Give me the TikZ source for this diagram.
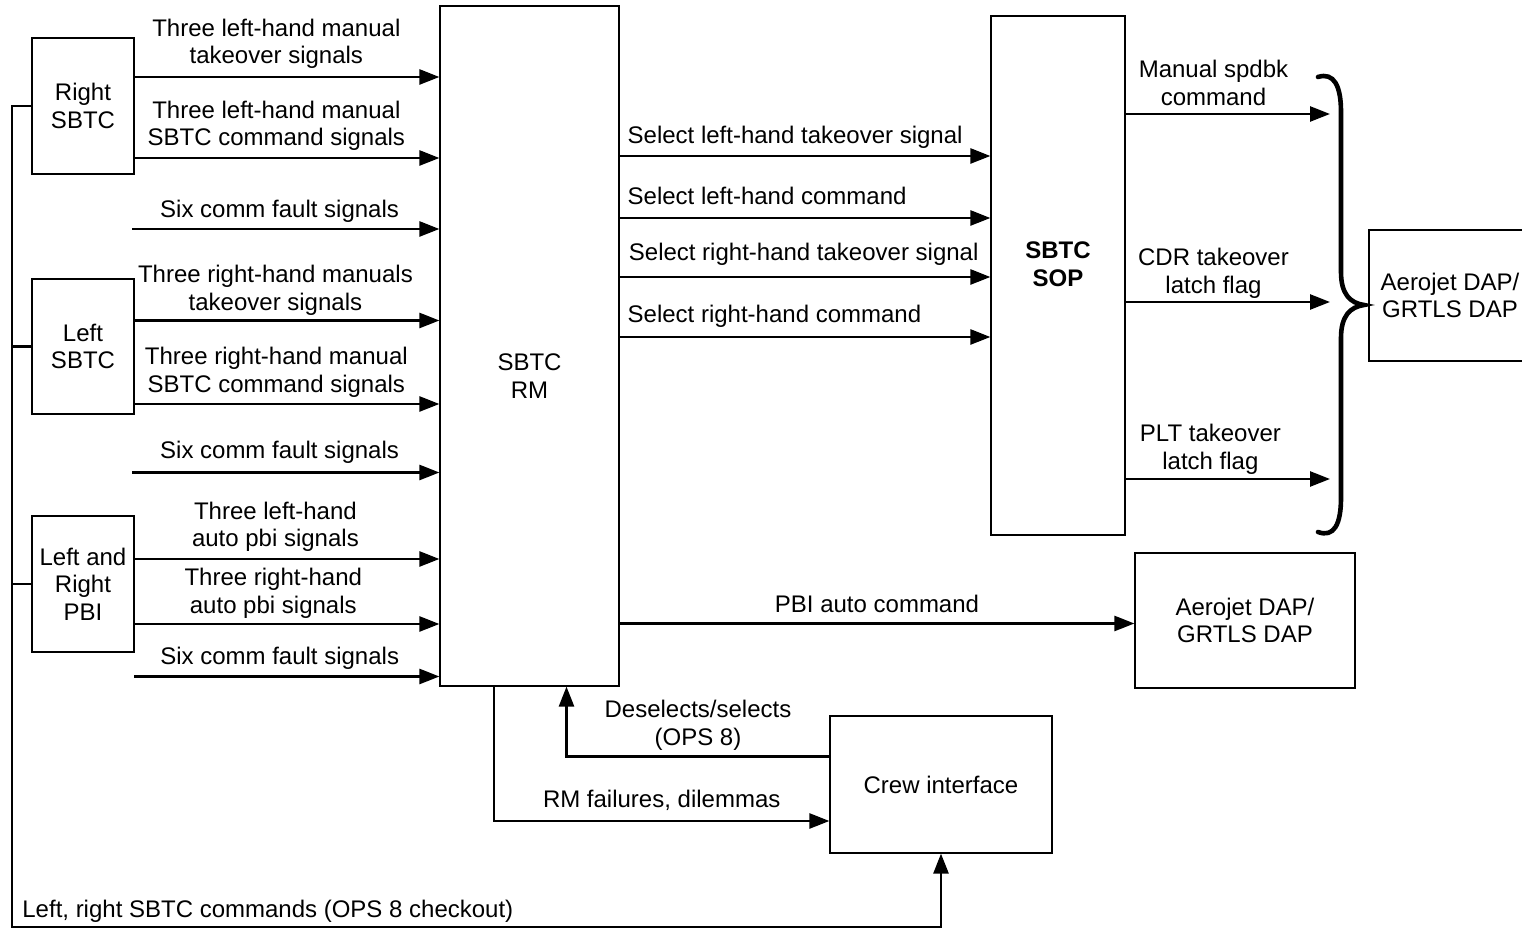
\documentclass[tikz,border=0pt]{standalone}
\usepackage{fontspec}
\setmainfont{Liberation Sans}
\usetikzlibrary{arrows.meta}
\newcommand\dfont{\fontsize{12pt}{13.8pt}\selectfont}
\begin{document}
\begin{tikzpicture}[x=0.5pt,y=-0.5pt,
  box/.style={draw, line width=0.6pt, inner sep=0pt, align=center, font=\dfont},
  txt/.style={inner sep=0pt, align=center, font=\dfont},
  lab/.style={inner sep=0pt, align=center, font=\dfont, text depth=0pt, anchor=south},
  arr/.style={line width=1.3pt, -{Triangle[length=10pt,width=7.5pt]}},
  ln/.style={line width=1.3pt},
  brace/.style={line width=2.3pt, line cap=round}]
\useasboundingbox (0,0) rectangle (1522,929);

% boxes
\node[box, minimum width=51pt, minimum height=68pt] (rs) at (83,106) {Right\\SBTC};
\node[box, minimum width=51pt, minimum height=67.5pt] (ls) at (83,346.5) {Left\\SBTC};
\node[box, minimum width=51pt, minimum height=68pt] (pbi) at (83,584) {Left and\\Right\\PBI};
\node[box, minimum width=89.5pt, minimum height=340pt] (rm) at (529.5,346) {};
\node[txt] (rmt) at (529.5,376) {SBTC\\RM};
\node[box, minimum width=67pt, minimum height=259.5pt] (sop) at (1058,275.5) {};
\node[txt, font=\dfont\bfseries] (sopt) at (1058,264) {SBTC\\SOP};
\node[box, minimum width=81pt, minimum height=65.5pt] (dap1) at (1450,295.5) {Aerojet DAP/\\GRTLS DAP};
\node[box, minimum width=110pt, minimum height=67.5pt] (dap2) at (1245,620.5) {Aerojet DAP/\\GRTLS DAP};
\node[box, minimum width=111pt, minimum height=68.5pt] (crew) at (941,784.5) {Crew interface};

% free ends
\coordinate (f1) at (132,229);
\coordinate (f2) at (132,472.5);
\coordinate (f3) at (134,676.5);
\coordinate (e1) at (1330,114);
\coordinate (e2) at (1330,302);
\coordinate (e3) at (1330,479);
\coordinate (b1) at (12,106);
\coordinate (b4) at (12,927);

% left inputs to RM
\draw[arr] (rs.east |- 0,77) -- node[lab, pos=0.465, yshift=6pt] {Three left-hand manual\\takeover signals} (rm.west |- 0,77);
\draw[arr] (rs.east |- 0,158) -- node[lab, pos=0.465, yshift=5.5pt] {Three left-hand manual\\SBTC command signals} (rm.west |- 0,158);
\draw[arr] (f1) -- node[lab, pos=0.48, yshift=5pt] {Six comm fault signals} (rm.west |- f1);
\draw[arr] (ls.east |- 0,320.5) -- node[lab, pos=0.462, yshift=4.5pt] {Three right-hand manuals\\takeover signals} (rm.west |- 0,320.5);
\draw[arr] (ls.east |- 0,404) -- node[lab, pos=0.465, yshift=5.3pt] {Three right-hand manual\\SBTC command signals} (rm.west |- 0,404);
\draw[arr] (f2) -- node[lab, pos=0.48, yshift=6.5pt] {Six comm fault signals} (rm.west |- f2);
\draw[arr] (pbi.east |- 0,559) -- node[lab, pos=0.462, yshift=5.5pt] {Three left-hand\\auto pbi signals} (rm.west |- 0,559);
\draw[arr] (pbi.east |- 0,624) -- node[lab, pos=0.455, yshift=4.6pt] {Three right-hand\\auto pbi signals} (rm.west |- 0,624);
\draw[arr] (f3) -- node[lab, pos=0.477, yshift=5.5pt] {Six comm fault signals} (rm.west |- f3);

% RM to SOP
\draw[arr] (rm.east |- 0,156) -- node[lab, pos=0, anchor=south west, xshift=3.4pt, yshift=5.8pt] {Select left-hand takeover signal} (sop.west |- 0,156);
\draw[arr] (rm.east |- 0,218) -- node[lab, pos=0, anchor=south west, xshift=3.4pt, yshift=6.3pt] {Select left-hand command} (sop.west |- 0,218);
\draw[arr] (rm.east |- 0,277) -- node[lab, pos=0, anchor=south west, xshift=4pt, yshift=7.6pt] {Select right-hand takeover signal} (sop.west |- 0,277);
\draw[arr] (rm.east |- 0,337) -- node[lab, pos=0, anchor=south west, xshift=3.4pt, yshift=6.8pt] {Select right-hand command} (sop.west |- 0,337);

% SOP outputs
\draw[arr] (sop.east |- e1) -- node[lab, pos=0.43, yshift=3.8pt] {Manual spdbk\\command} (e1);
\draw[arr] (sop.east |- e2) -- node[lab, pos=0.43, yshift=3.6pt] {CDR takeover\\latch flag} (e2);
\draw[arr] (sop.east |- e3) -- node[lab, pos=0.415, yshift=4.1pt] {PLT takeover\\latch flag} (e3);

% brace
\draw[brace] (1318,77) .. controls (1334,72) and (1341,86) .. (1341,112)
  -- (1341,272) .. controls (1341,294) and (1350,303) .. (1364,305)
  .. controls (1350,307) and (1341,316) .. (1341,338)
  -- (1341,498) .. controls (1341,524) and (1334,538) .. (1318,532);

% PBI auto command
\draw[arr] (rm.east |- 0,623.5) -- node[lab, midway, yshift=4.8pt] {PBI auto command} (dap2.west |- 0,623.5);

% crew interface links
\draw[arr] ([xshift=-17.75pt]rm.south) |- node[lab, pos=0.75, yshift=6.2pt] {RM failures, dilemmas} ([yshift=-18.25pt]crew.west);
\draw[arr] ([yshift=13.9pt]crew.west) -| node[lab, pos=0.25, yshift=5pt] {Deselects/selects\\(OPS 8)} ([xshift=18.5pt]rm.south);

% bus
\draw[arr] (rs.west) -- (b1) -- (b4) -| (crew.south);
\draw[ln] (ls.west) -- (ls.west -| b1);
\draw[ln] (pbi.west) -- (pbi.west -| b1);
\node[lab, anchor=south west, yshift=4.5pt] (botlab) at (22,927) {Left, right SBTC commands (OPS 8 checkout)};
\end{tikzpicture}
\end{document}
